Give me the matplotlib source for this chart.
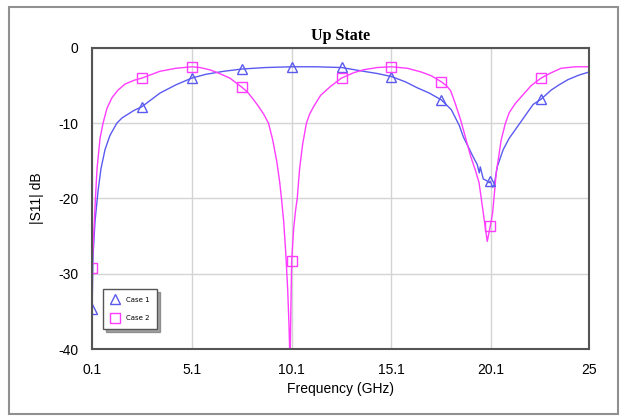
import matplotlib.pyplot as plt
from matplotlib.patches import Rectangle

plt.rcParams['axes.unicode_minus'] = False

# Courbes (GHz, dB)
freq_case1 = [0.1, 0.15, 0.25, 0.4, 0.55, 0.75, 1.0, 1.34, 1.6, 1.9, 2.2, 2.6, 3.0, 3.5,
              4.3, 5.1, 5.8, 6.7, 7.6, 8.8, 10.1, 11.3, 12.6, 13.7, 14.4, 15.1, 15.8,
              16.4, 17.0, 17.6, 18.1, 18.5, 18.7, 19.2, 19.4, 19.5, 19.55, 19.7,
              19.85, 20.0, 20.05, 20.17, 20.25, 20.4, 20.7, 21.0, 21.4, 21.8, 22.2,
              22.6, 23.1, 23.5, 23.95, 24.5, 25.0]
s11_case1 = [-35.0, -27.5, -23.0, -19.0, -16.0, -13.5, -11.6, -10.0, -9.3, -8.8, -8.3,
             -7.8, -7.0, -6.0, -4.9, -4.0, -3.5, -3.1, -2.8, -2.6, -2.5, -2.5, -2.6,
             -3.1, -3.4, -3.8, -4.5, -5.3, -6.0, -6.9, -8.2, -10.3, -11.8, -14.5,
             -15.5, -16.6, -15.8, -17.4, -17.6, -17.9, -17.7, -18.5, -18.2, -15.8,
             -13.5, -12.0, -10.5, -9.0, -7.5, -6.8, -5.6, -4.9, -4.2, -3.6, -3.2]

freq_case2 = [0.1, 0.18, 0.25, 0.35, 0.5, 0.65, 0.85, 1.1, 1.4, 1.75, 2.2, 2.6, 3.0, 3.5,
              4.3, 5.1, 5.5, 6.0, 6.4, 7.0, 7.6, 7.9, 8.2, 8.45, 8.7, 8.94, 9.15,
              9.35, 9.5, 9.59, 9.7, 9.8, 9.9, 9.97, 10.02, 10.1, 10.2, 10.3, 10.38,
              10.5, 10.65, 10.84, 11.0, 11.2, 11.55, 12.05, 12.6, 13.2, 13.7, 14.4,
              15.1, 15.9, 16.6, 17.1, 17.6, 17.85, 18.07, 18.3, 18.57, 18.8, 19.07,
              19.3, 19.49, 19.7, 19.9, 20.05, 20.17, 20.35, 20.6, 20.8, 21.0, 21.3,
              21.6, 22.1, 22.6, 23.1, 23.6, 24.3, 25.0]
s11_case2 = [-29.3, -25.0, -21.0, -16.0, -12.0, -10.0, -8.0, -6.6, -5.6, -4.8, -4.3,
             -4.0, -3.6, -3.1, -2.7, -2.5, -2.6, -2.9, -3.3, -4.0, -5.2, -5.9, -6.9,
             -7.8, -8.8, -10.0, -12.2, -15.0, -17.8, -20.0, -23.0, -27.0, -32.0,
             -37.0, -42.0, -28.3, -24.0, -21.5, -20.0, -16.0, -12.8, -10.0, -8.8,
             -7.8, -6.3, -5.1, -4.0, -3.3, -2.9, -2.6, -2.5, -2.7, -3.2, -3.7, -4.5,
             -5.0, -5.7, -7.4, -9.6, -11.8, -14.4, -16.2, -17.9, -21.9, -25.7, -23.7,
             -21.9, -16.6, -12.2, -10.1, -8.6, -7.4, -6.5, -5.0, -4.0, -3.3, -2.7,
             -2.5, -2.5]

# Marqueurs (un tous les 2.5 GHz)
freq_marq = [0.1, 2.6, 5.1, 7.6, 10.1, 12.6, 15.1, 17.6, 20.05, 22.6]
marq_case1 = [-34.7, -7.8, -4.0, -2.8, -2.5, -2.5, -3.8, -6.9, -17.7, -6.8]
marq_case2 = [-29.3, -4.0, -2.5, -5.2, -28.3, -4.0, -2.5, -4.5, -23.7, -4.0]

ticks_x = [0.1, 5.1, 10.1, 15.1, 20.1, 25]
ticks_y = [0, -10, -20, -30, -40]

bleu = '#5a5af0'
rose = '#ff3cff'

fig = plt.figure(figsize=(6.22, 4.17), dpi=100)
fig.patches.append(Rectangle((0.014, 0.008), 0.98, 0.975, transform=fig.transFigure,
                             fill=False, edgecolor='#909090', linewidth=1.5))

ax = fig.add_axes([0.148, 0.163, 0.799, 0.722])
ax.plot(freq_case1, s11_case1, color=bleu, lw=1)
ax.plot(freq_case2, s11_case2, color=rose, lw=1)
ax.plot(freq_marq, marq_case1, ls='none', marker='^', ms=7, mfc='none', mec=bleu, mew=1)
ax.plot(freq_marq, marq_case2, ls='none', marker='s', ms=7, mfc='none', mec=rose, mew=1)

# entrées de légende
h1, = ax.plot([], [], ls='none', marker='^', ms=7, mfc='none', mec=bleu, label='Case 1')
h2, = ax.plot([], [], ls='none', marker='s', ms=7, mfc='none', mec=rose, label='Case 2')
leg = ax.legend(handles=[h1, h2], loc='lower left', bbox_to_anchor=(0.015, 0.055),
                fontsize=5, frameon=True, fancybox=False, shadow=True, framealpha=1,
                edgecolor='#555555', handlelength=1.2, borderpad=1.1, labelspacing=1.8,
                handletextpad=1.0)
leg.get_frame().set_linewidth(1.0)

ax.set_xlim(0.1, 25)
ax.set_ylim(-40, 0)
ax.set_xticks(ticks_x)
ax.set_xticklabels([str(t) for t in ticks_x])
ax.set_yticks(ticks_y)
ax.grid(color='#d4d4d4', lw=1)
ax.set_axisbelow(True)
ax.tick_params(length=0, pad=10, labelsize=10)
for lab in ax.get_xticklabels() + ax.get_yticklabels():
    lab.set_fontfamily('Liberation Sans')
for sp in ax.spines.values():
    sp.set_color('#555555')
    sp.set_linewidth(1.5)

ax.set_xlabel('Frequency (GHz)', fontsize=10, family='Liberation Sans', labelpad=4)
ax.set_ylabel('|S11| dB', fontsize=10, family='Liberation Sans', labelpad=10)
ax.set_title('Up State', fontsize=11.5, family='Liberation Serif', fontweight='bold', pad=6)

fig.savefig('out.png', dpi=100)
